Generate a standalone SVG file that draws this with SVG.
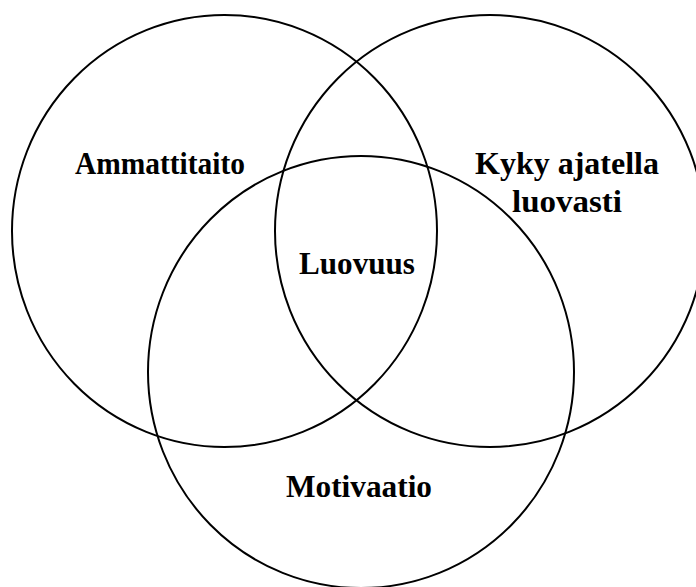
<svg xmlns="http://www.w3.org/2000/svg" width="696" height="587" viewBox="0 0 696 587">
  <style>
    .set { fill: none; stroke: #000; stroke-width: 2; }
    .lbl { font-family: "Liberation Serif", "Times New Roman", serif; font-weight: bold; font-size: 31px; fill: #000; text-anchor: middle; }
  </style>
  <rect width="696" height="587" fill="#fff"/>
  <g id="ammattitaito">
    <ellipse class="set" cx="224.5" cy="231" rx="212.5" ry="216"/>
    <text class="lbl" x="160" y="174" textLength="170" lengthAdjust="spacingAndGlyphs">Ammattitaito</text>
  </g>
  <g id="kyky">
    <ellipse class="set" cx="490" cy="231" rx="215" ry="216"/>
    <text class="lbl" x="567" y="174" textLength="184" lengthAdjust="spacingAndGlyphs">Kyky ajatella</text>
    <text class="lbl" x="567" y="212" textLength="110" lengthAdjust="spacingAndGlyphs">luovasti</text>
  </g>
  <g id="motivaatio">
    <ellipse class="set" cx="361" cy="372" rx="213" ry="216"/>
    <text class="lbl" x="359" y="497" textLength="146" lengthAdjust="spacingAndGlyphs">Motivaatio</text>
  </g>
  <g id="luovuus">
    <text class="lbl" x="357" y="274" textLength="116" lengthAdjust="spacingAndGlyphs">Luovuus</text>
  </g>
</svg>
